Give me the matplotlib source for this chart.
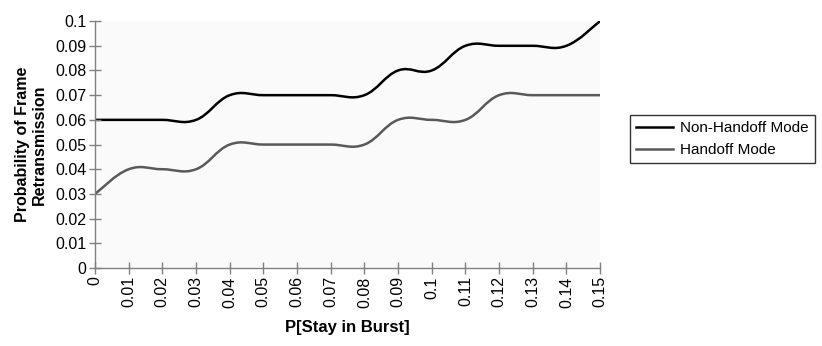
import numpy as np
import matplotlib.pyplot as plt
from matplotlib.path import Path
from matplotlib.patches import PathPatch
from matplotlib.lines import Line2D

plt.rcParams['font.family'] = ['Liberation Sans', 'DejaVu Sans']

# data
p_stay = [0, 0.01, 0.02, 0.03, 0.04, 0.05, 0.06, 0.07, 0.08,
          0.09, 0.1, 0.11, 0.12, 0.13, 0.14, 0.15]
non_handoff = [0.06, 0.06, 0.06, 0.06, 0.07, 0.07, 0.07, 0.07, 0.07,
               0.08, 0.08, 0.09, 0.09, 0.09, 0.09, 0.10]
handoff = [0.03, 0.04, 0.04, 0.04, 0.05, 0.05, 0.05, 0.05, 0.05,
           0.06, 0.06, 0.06, 0.07, 0.07, 0.07, 0.07]
x_ticks = [0, 0.01, 0.02, 0.03, 0.04, 0.05, 0.06, 0.07, 0.08,
           0.09, 0.1, 0.11, 0.12, 0.13, 0.14, 0.15]
y_ticks = [0, 0.01, 0.02, 0.03, 0.04, 0.05, 0.06, 0.07, 0.08, 0.09, 0.1]


# smoothed line like the spreadsheet, drawn as bezier path through the points
def smooth_path(xs, ys, k=5.0):
    pts = np.column_stack([xs, ys])
    n = len(pts)
    verts = [pts[0]]
    codes = [Path.MOVETO]
    for i in range(n - 1):
        p0 = pts[max(i - 1, 0)]
        p1 = pts[i]
        p2 = pts[i + 1]
        p3 = pts[min(i + 2, n - 1)]
        c1 = p1 + (p2 - p0) / k
        c2 = p2 - (p3 - p1) / k
        verts += [c1, c2, p2]
        codes += [Path.CURVE4] * 3
    return Path(verts, codes)


fig = plt.figure(figsize=(8.22, 3.46), dpi=100)
ax = fig.add_axes([0.1156, 0.2254, 0.6144, 0.7136])
ax.set_facecolor('#fafafa')

black = '#000000'
grey = '#595959'
for ys, col in [(non_handoff, black), (handoff, grey)]:
    ax.add_patch(PathPatch(smooth_path(p_stay, ys), facecolor='none',
                           edgecolor=col, lw=1.8, capstyle='round'))

ax.set_xlim(0, 0.15)
ax.set_ylim(0, 0.1)
ax.set_xticks(x_ticks)
ax.set_xticklabels([f'{v:g}' for v in x_ticks], rotation=90, fontsize=11.5)
ax.set_yticks(y_ticks)
ax.set_yticklabels([f'{v:g}' for v in y_ticks], fontsize=11.5)

for s in ['top', 'right']:
    ax.spines[s].set_visible(False)
for s in ['left', 'bottom']:
    ax.spines[s].set_color('#808080')
    ax.spines[s].set_linewidth(1)
ax.tick_params(direction='inout', length=8, width=1, color='#808080', pad=2)

ax.set_xlabel('P[Stay in Burst]', fontsize=12, fontweight='bold', labelpad=9)
ax.set_ylabel('Probability of Frame\nRetransmission', fontsize=11.5,
              fontweight='bold', labelpad=6)

handles = [Line2D([], [], color=black, lw=1.8),
           Line2D([], [], color=grey, lw=1.8)]
leg = fig.legend(handles, ['Non-Handoff Mode', 'Handoff Mode'],
                 loc='center left', bbox_to_anchor=(0.766, 0.598),
                 fontsize=11, frameon=True, fancybox=False,
                 edgecolor='#000000', handlelength=2.45, handletextpad=0.45,
                 borderpad=0.4, labelspacing=0.5, borderaxespad=0)
leg.get_frame().set_linewidth(1)

fig.savefig('out.png', dpi=100)
